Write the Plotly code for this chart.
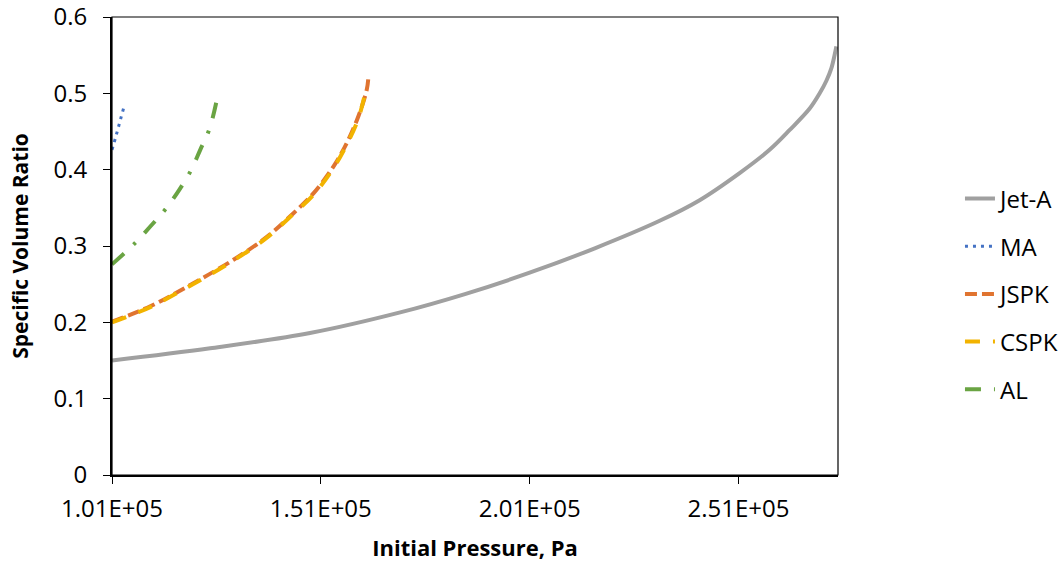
import plotly.graph_objects as go

# ---- data ----
jet_a_p = [101000, 124500, 148400, 170000, 185500, 201000, 216600, 232130, 241700,
           251270, 258450, 263270, 268050, 270440, 272050, 273250, 274030, 274440]
jet_a_v = [0.150, 0.166, 0.186, 0.213, 0.237, 0.265, 0.297, 0.333, 0.360,
           0.3955, 0.426, 0.452, 0.480, 0.500, 0.5165, 0.533, 0.5506, 0.5615]

ma_p = [101000, 102000, 103000, 104000]
ma_v = [0.426, 0.445, 0.465, 0.485]

jspk_p = [101000, 110163, 119732, 130091, 138081, 144445, 149230, 154014, 157220, 159995, 162005, 162400]
jspk_v = [0.201, 0.221, 0.249, 0.282, 0.312, 0.343, 0.369, 0.404, 0.435, 0.470, 0.505, 0.522]

cspk_p = [101000, 110163, 119732, 130091, 138081, 144445, 149230, 154014, 157220, 159995, 162005]
cspk_v = [0.200, 0.220, 0.248, 0.281, 0.311, 0.342, 0.367, 0.402, 0.433, 0.467, 0.510]

al_p = [101000, 106574, 110163, 113919, 117101, 119900, 122125, 124350, 126120]
al_v = [0.276, 0.304, 0.3255, 0.349, 0.3736, 0.399, 0.426, 0.4536, 0.492]

x_tickvals = [101000, 151000, 201000, 251000]
x_ticktext = ["1.01E+05", "1.51E+05", "2.01E+05", "2.51E+05"]
y_tickvals = [0, 0.1, 0.2, 0.3, 0.4, 0.5, 0.6]

FONT = "Open Sans"

fig = go.Figure()
fig.add_trace(go.Scatter(x=jet_a_p, y=jet_a_v, name="Jet-A", mode="lines", legendgroup="a",
                         line=dict(color="#A0A0A0", width=4, shape="spline")))
fig.add_trace(go.Scatter(x=ma_p, y=ma_v, name="MA", mode="lines", legendgroup="b",
                         line=dict(color="#4472C4", width=3, dash="3px,5px", shape="spline")))
fig.add_trace(go.Scatter(x=jspk_p, y=jspk_v, name="JSPK", mode="lines", legendgroup="c",
                         line=dict(color="#E07430", width=4, dash="12px,5px", shape="spline")))
fig.add_trace(go.Scatter(x=cspk_p, y=cspk_v, name="CSPK", mode="lines", legendgroup="d",
                         line=dict(color="#F2B300", width=4, dash="15px,13px", shape="spline")))
fig.add_trace(go.Scatter(x=al_p, y=al_v, name="AL", mode="lines", legendgroup="e",
                         line=dict(color="#6AA443", width=4, dash="16px,13px,3px,13px", shape="spline")))

fig.update_layout(
    width=1064, height=567,
    margin=dict(l=112, r=226, t=17, b=92, autoexpand=False),
    paper_bgcolor="white", plot_bgcolor="white",
    font=dict(family=FONT, size=24, color="#000000"),
    showlegend=True,
    legend=dict(x=1.168, y=0.652, xanchor="left", yanchor="top",
                font=dict(family=FONT, size=24, color="#000000"),
                tracegroupgap=13.5, bgcolor="rgba(0,0,0,0)"),
    shapes=[dict(type="rect", xref="paper", yref="paper", x0=0, y0=0, x1=1, y1=1,
                 line=dict(color="#000000", width=1.2), layer="above")],
)
fig.update_xaxes(
    range=[101000, 274830], tickvals=x_tickvals, ticktext=x_ticktext, automargin=False,
    showgrid=False, zeroline=False, showline=True, linecolor="#000000", linewidth=2,
    ticks="outside", ticklen=7, tickwidth=1, tickcolor="#000000",
    tickfont=dict(family=FONT, size=24), ticklabelstandoff=4, ticklabeloverflow="allow",
    title=dict(text="<b>Initial Pressure, Pa</b>", font=dict(family=FONT, size=22), standoff=18),
)
fig.update_yaxes(
    range=[0, 0.6], tickvals=y_tickvals, automargin=False,
    showgrid=False, zeroline=False, showline=True, linecolor="#000000", linewidth=2,
    ticks="outside", ticklen=7, tickwidth=1, tickcolor="#000000",
    tickfont=dict(family=FONT, size=24), ticklabelstandoff=11, ticklabeloverflow="allow",
    title=dict(text="<b>Specific Volume Ratio</b>", font=dict(family=FONT, size=21), standoff=19),
)

fig.write_html("out.html", config={"displayModeBar": False},
               post_script="document.body.style.margin='0px';")
